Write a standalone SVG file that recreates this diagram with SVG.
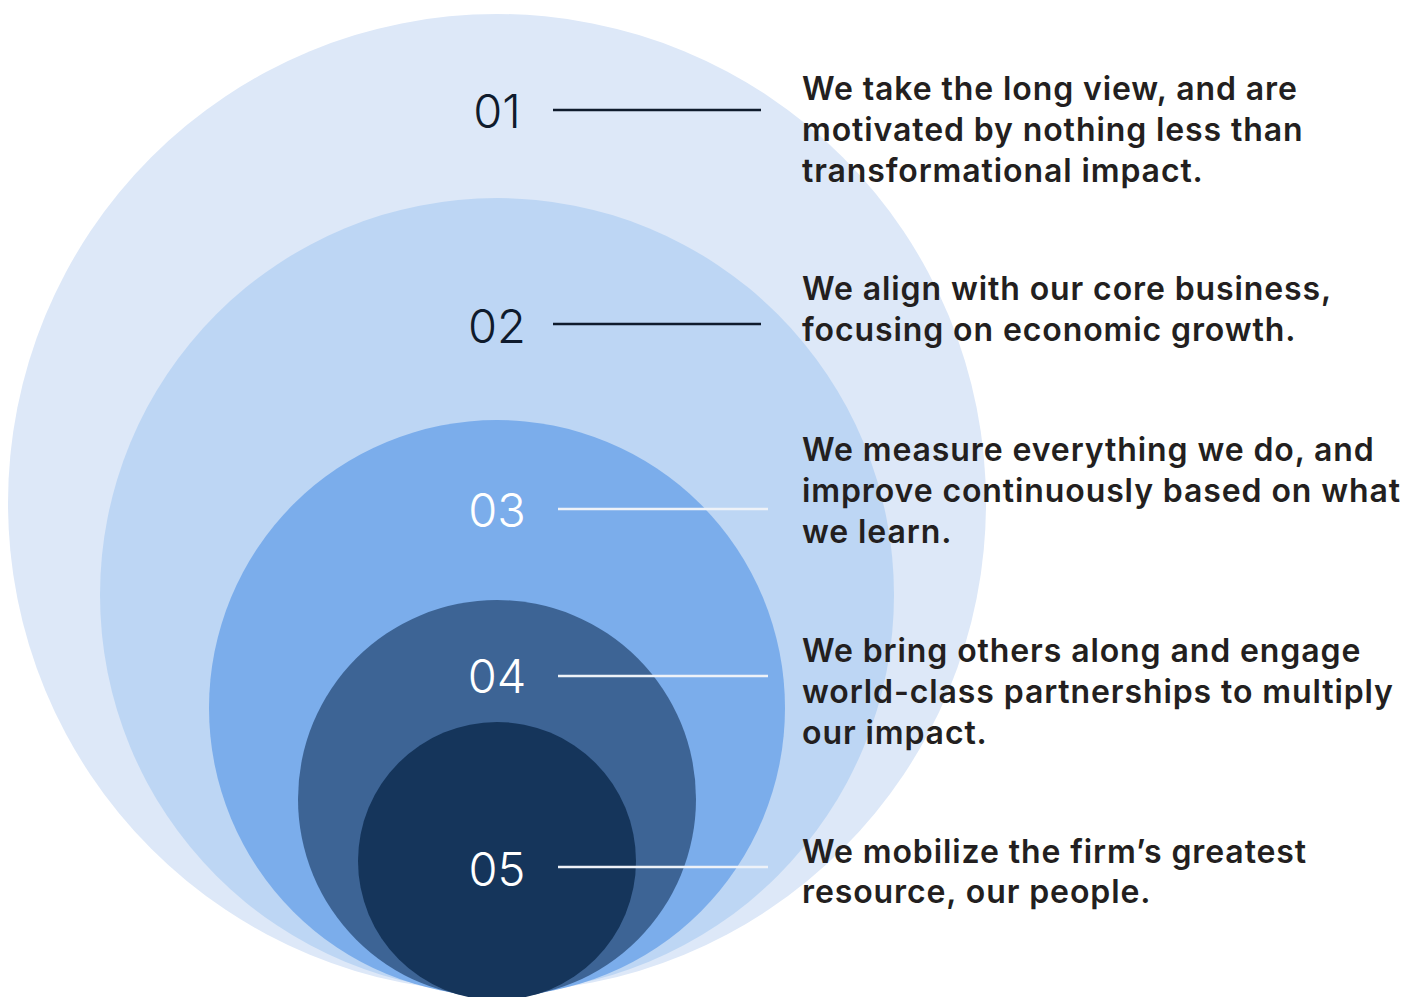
<svg xmlns="http://www.w3.org/2000/svg" width="1415" height="997" viewBox="0 0 1415 997">
<style>
.num{font-family:Inter,"Liberation Sans",sans-serif;font-size:47px;font-weight:300;text-anchor:middle}
.dark{fill:#0f1b2c}
.light{fill:#ffffff}
.desc{font-family:Inter,"Liberation Sans",sans-serif;font-size:32px;font-weight:600;letter-spacing:0.9px;fill:#231f20}
.ln-dark{stroke:#0f1b2c;stroke-width:2.5}
.ln-light{stroke:#eef2f8;stroke-width:2.5}
</style>
<rect width="1415" height="997" fill="#ffffff"/>
<g id="circle1"><circle cx="497" cy="503" r="489" fill="#dde8f8"/></g>
<g id="circle2"><circle cx="497" cy="595" r="397" fill="#bdd6f4"/></g>
<g id="circle3"><circle cx="497" cy="708" r="288" fill="#7badeb"/></g>
<g id="circle4"><circle cx="497" cy="799" r="199" fill="#3d6495"/></g>
<g id="circle5"><circle cx="497" cy="861" r="139" fill="#15355b"/></g>
<g id="connectors">
<line class="ln-dark" x1="553" y1="110" x2="761" y2="110"/>
<line class="ln-dark" x1="553" y1="324" x2="761" y2="324"/>
<line class="ln-light" x1="558" y1="509" x2="768" y2="509"/>
<line class="ln-light" x1="558" y1="676" x2="768" y2="676"/>
<line class="ln-light" x1="558" y1="867" x2="768" y2="867"/>
</g>
<g id="label1"><text class="num dark" x="497" y="128">01</text></g>
<g id="label2"><text class="num dark" x="497" y="343">02</text></g>
<g id="label3"><text class="num light" x="497" y="527">03</text></g>
<g id="label4"><text class="num light" x="497" y="693">04</text></g>
<g id="label5"><text class="num light" x="497" y="886">05</text></g>
<g id="text1"><text class="desc" x="802"><tspan x="802" y="100">We take the long view, and are</tspan><tspan x="802" y="141">motivated by nothing less than</tspan><tspan x="802" y="182">transformational impact.</tspan></text></g>
<g id="text2"><text class="desc" x="802"><tspan x="802" y="300">We align with our core business,</tspan><tspan x="802" y="341">focusing on economic growth.</tspan></text></g>
<g id="text3"><text class="desc" x="802"><tspan x="802" y="461">We measure everything we do, and</tspan><tspan x="802" y="502">improve continuously based on what</tspan><tspan x="802" y="543">we learn.</tspan></text></g>
<g id="text4"><text class="desc" x="802"><tspan x="802" y="662">We bring others along and engage</tspan><tspan x="802" y="703">world-class partnerships to multiply</tspan><tspan x="802" y="744">our impact.</tspan></text></g>
<g id="text5"><text class="desc" x="802"><tspan x="802" y="863">We mobilize the firm’s greatest</tspan><tspan x="802" y="903">resource, our people.</tspan></text></g>
</svg>
